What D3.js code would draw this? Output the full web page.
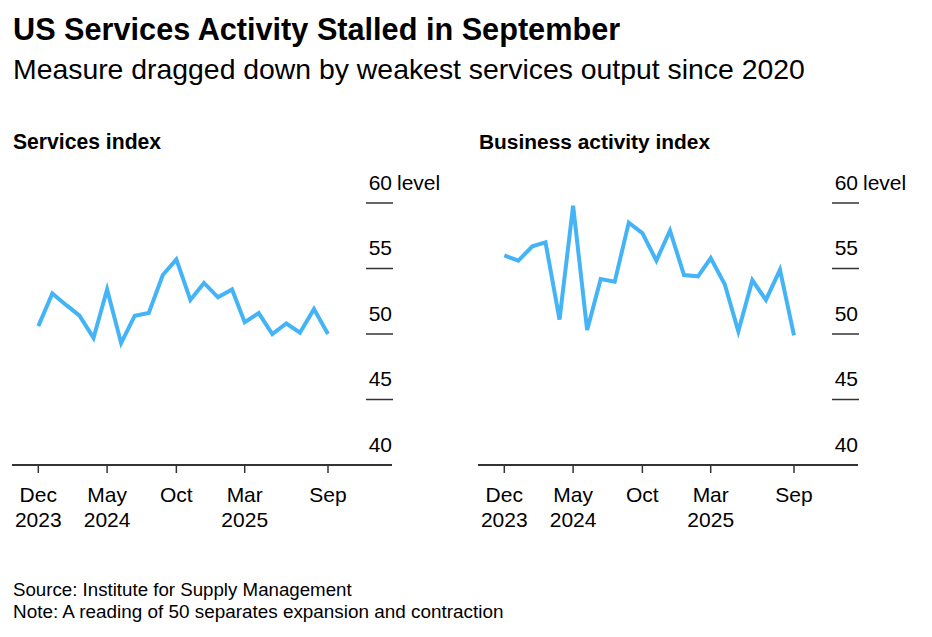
<!DOCTYPE html>
<html><head><meta charset="utf-8">
<script src="https://cdn.jsdelivr.net/npm/d3@7"></script>
<style>
body{margin:0;background:#fff}
svg{display:block}
text{font-family:"Liberation Sans",Arial,Helvetica,sans-serif;fill:#000}
</style>
</head><body>
<svg id="chart" width="932" height="637"></svg>
<script>
// ---- data ----
const months = ["2023-12","2024-01","2024-02","2024-03","2024-04","2024-05","2024-06","2024-07","2024-08","2024-09","2024-10","2024-11","2024-12","2025-01","2025-02","2025-03","2025-04","2025-05","2025-06","2025-07","2025-08","2025-09"];
const servicesIndex = [50.6,53.1,52.2,51.4,49.7,53.4,49.3,51.4,51.6,54.5,55.7,52.6,53.9,52.8,53.4,50.9,51.6,50.0,50.8,50.1,51.9,50.0];
const businessActivity = [56.0,55.6,56.7,57.0,51.1,59.8,50.3,54.2,54.0,58.5,57.7,55.6,57.9,54.5,54.4,55.8,53.8,50.2,54.1,52.6,54.9,49.9];
const yTicks = [40,45,50,55,60];
const xTickMonths = ["2023-12","2024-05","2024-10","2025-03","2025-09"];
const xTickLabels = [["Dec","2023"],["May","2024"],["Oct",""],["Mar","2025"],["Sep",""]];
const panelTitles = ["Services index","Business activity index"];
const panelSeries = [servicesIndex, businessActivity];
const titleText = "US Services Activity Stalled in September";
const subtitleText = "Measure dragged down by weakest services output since 2020";
const sourceText = "Source: Institute for Supply Management";
const noteText = "Note: A reading of 50 separates expansion and contraction";

const svg = d3.select("#chart");
const parse = d3.utcParse("%Y-%m");

function fit(sel, w){
  const n = sel.node();
  let fs = parseFloat(sel.attr("font-size"));
  for(let i=0;i<3;i++){
    const cur = n.getComputedTextLength();
    fs = fs * w / cur;
    sel.attr("font-size", fs);
  }
  return sel;
}

fit(svg.append("text").attr("x",13).attr("y",39.5).attr("font-size",28).attr("font-weight","bold").text(titleText), 607);
fit(svg.append("text").attr("x",13).attr("y",78.5).attr("font-size",24).text(subtitleText), 792);
fit(svg.append("text").attr("x",13).attr("y",596).attr("font-size",17).text(sourceText), 339);
fit(svg.append("text").attr("x",13).attr("y",618).attr("font-size",17).text(noteText), 490);

const titleWidths = [148, 231];
const y = d3.scaleLinear().domain([40,60]).range([465,203]);
const color = "#44b4f6";
const axisColor = "#333";

panelSeries.forEach((vals, p) => {
  const ox = p * 466;
  const g = svg.append("g").attr("transform", `translate(${ox},0)`);
  const x = d3.scaleUtc().domain([parse(months[0]), parse(months[months.length-1])]).range([38.3, 328]);

  fit(g.append("text").attr("x",13).attr("y",148.5).attr("font-size",19).attr("font-weight","bold").text(panelTitles[p]), titleWidths[p]);

  // y gridline stubs and labels
  yTicks.forEach(v => {
    if (v > 40) {
      g.append("line").attr("x1",366).attr("x2",393).attr("y1",y(v)).attr("y2",y(v))
        .attr("stroke",axisColor).attr("stroke-width",1.5);
    }
    g.append("text").attr("x",392).attr("y",y(v)-13.5).attr("text-anchor","end")
      .attr("font-size",21).text(v);
    if (v === 60) {
      g.append("text").attr("x",397).attr("y",y(v)-13.5).attr("font-size",21).text("level");
    }
  });

  // baseline
  g.append("line").attr("x1",12).attr("x2",392).attr("y1",y(40)).attr("y2",y(40))
    .attr("stroke",axisColor).attr("stroke-width",2);

  // x ticks
  xTickMonths.forEach((m, i) => {
    const xx = x(parse(m));
    g.append("line").attr("x1",xx).attr("x2",xx).attr("y1",y(40)).attr("y2",y(40)+8)
      .attr("stroke",axisColor).attr("stroke-width",1.5);
    g.append("text").attr("x",xx).attr("y",501.5).attr("text-anchor","middle").attr("font-size",21).text(xTickLabels[i][0]);
    if (xTickLabels[i][1]) g.append("text").attr("x",xx).attr("y",527).attr("text-anchor","middle").attr("font-size",21).text(xTickLabels[i][1]);
  });

  const line = d3.line().x((d,i) => x(parse(months[i]))).y(d => y(d));
  g.append("path").datum(vals).attr("d", line).attr("fill","none")
    .attr("stroke",color).attr("stroke-width",4);
});
</script>
</body></html>
